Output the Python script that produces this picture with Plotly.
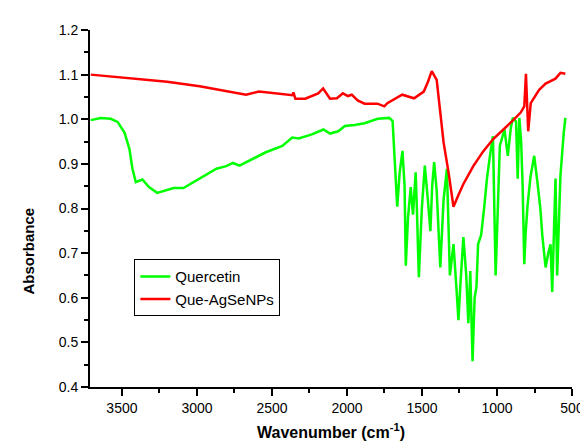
import plotly.graph_objects as go

# FTIR spectra (wavenumber in cm-1, absorbance)
quercetin_wn = [3708, 3641, 3575, 3529, 3483, 3450, 3430, 3408, 3364, 3320,
                3265, 3199, 3155, 3090, 2980, 2870, 2805, 2760, 2717, 2651,
                2541, 2431, 2365, 2322, 2234, 2157, 2113, 2058, 2014, 1949,
                1883, 1795, 1718, 1696, 1682, 1665, 1649, 1630, 1616, 1608,
                1593, 1575, 1560, 1542, 1534, 1521, 1501, 1481, 1461, 1444,
                1432, 1419, 1402, 1378, 1356, 1334, 1314, 1290, 1270, 1257,
                1244, 1224, 1205, 1191, 1178, 1163, 1149, 1137, 1126, 1106,
                1086, 1066, 1046, 1027, 1009, 994, 981, 950, 928, 908,
                895, 873, 862, 851, 839, 829, 818, 810, 796, 777,
                752, 731, 711, 698, 676, 658, 643, 632, 619, 610,
                599, 586, 577, 555, 544]
quercetin_abs = [0.998, 1.003, 1.001, 0.994, 0.970, 0.933, 0.889, 0.859, 0.865, 0.848,
                 0.835, 0.841, 0.846, 0.846, 0.867, 0.889, 0.895, 0.902, 0.896, 0.907,
                 0.926, 0.940, 0.959, 0.957, 0.966, 0.977, 0.968, 0.973, 0.985, 0.987,
                 0.991, 1.001, 1.003, 0.996, 0.920, 0.804, 0.880, 0.929, 0.850, 0.672,
                 0.780, 0.848, 0.786, 0.881, 0.800, 0.646, 0.800, 0.896, 0.820, 0.749,
                 0.850, 0.904, 0.840, 0.668, 0.820, 0.889, 0.650, 0.720, 0.620, 0.550,
                 0.630, 0.736, 0.650, 0.543, 0.660, 0.458, 0.600, 0.624, 0.720, 0.740,
                 0.800, 0.870, 0.920, 0.962, 0.650, 0.800, 0.940, 0.977, 0.918, 0.980,
                 1.003, 0.995, 0.867, 1.003, 0.950, 0.850, 0.675, 0.740, 0.808, 0.870,
                 0.918, 0.860, 0.800, 0.740, 0.668, 0.700, 0.720, 0.613, 0.750, 0.867,
                 0.650, 0.780, 0.874, 0.970, 1.003]

que_agse_wn = [3708, 3616, 3419, 3199, 2982, 2673, 2587, 2409, 2363, 2357,
               2344, 2278, 2192, 2159, 2113, 2067, 2027, 1994, 1968, 1929,
               1883, 1797, 1751, 1731, 1632, 1553, 1488, 1460, 1435, 1402,
               1378, 1356, 1323, 1290, 1257, 1224, 1158, 1092, 1027, 961,
               895, 842, 818, 807, 801, 792, 775, 719, 676, 610,
               577, 544]
que_agse_abs = [1.100, 1.097, 1.090, 1.084, 1.074, 1.055, 1.062, 1.056, 1.054, 1.060,
                1.046, 1.046, 1.058, 1.069, 1.046, 1.047, 1.058, 1.052, 1.055, 1.042,
                1.035, 1.035, 1.029, 1.036, 1.055, 1.047, 1.062, 1.084, 1.108, 1.088,
                1.014, 0.948, 0.881, 0.804, 0.830, 0.855, 0.895, 0.928, 0.955, 0.975,
                0.997, 1.015, 1.029, 1.102, 1.036, 0.973, 1.036, 1.066, 1.080, 1.091,
                1.104, 1.102]

fig = go.Figure()

fig.add_trace(go.Scatter(x=quercetin_wn, y=quercetin_abs, mode='lines',
                         name='Quercetin', line=dict(color='#00ff00', width=2.5)))
fig.add_trace(go.Scatter(x=que_agse_wn, y=que_agse_abs, mode='lines',
                         name='Que-AgSeNPs', line=dict(color='#ff0000', width=2.5)))

axis_font = dict(family='Liberation Sans, Arial, sans-serif', size=14, color='black')

fig.update_layout(
    width=588, height=443,
    margin=dict(l=82, r=18, t=22, b=58),
    plot_bgcolor='white', paper_bgcolor='white',
    font=axis_font,
    showlegend=True,
    legend=dict(x=0.092, y=0.358, xanchor='left', yanchor='top',
                bordercolor='black', borderwidth=1, bgcolor='white',
                font=dict(family='Liberation Sans, Arial, sans-serif', size=15, color='black'),
                tracegroupgap=0),
    xaxis=dict(range=[3713, 500], tickvals=[3500, 3000, 2500, 2000, 1500, 1000, 500],
               showgrid=False, zeroline=False, showline=True, linecolor='black',
               linewidth=2, ticks='outside', ticklen=7, tickwidth=1.5,
               tickcolor='black', tickfont=axis_font,
               minor=dict(tickvals=[3250, 2750, 2250, 1750, 1250, 750],
                          ticks='outside', ticklen=4, tickcolor='black', tickwidth=1.5),
               title=dict(text='<b>Wavenumber (cm<sup>-1</sup>)</b>', standoff=12,
                          font=dict(family='Liberation Sans, Arial, sans-serif', size=16))),
    yaxis=dict(range=[0.4, 1.2], tickvals=[0.4, 0.5, 0.6, 0.7, 0.8, 0.9, 1.0, 1.1, 1.2],
               ticktext=['0.4', '0.5', '0.6', '0.7', '0.8', '0.9', '1.0', '1.1', '1.2'],
               showgrid=False, zeroline=False, showline=True, linecolor='black',
               linewidth=2, ticks='outside', ticklen=7, tickwidth=1.5,
               tickcolor='black', tickfont=axis_font,
               minor=dict(tickvals=[0.45, 0.55, 0.65, 0.75, 0.85, 0.95, 1.05, 1.15],
                          ticks='outside', ticklen=4, tickcolor='black', tickwidth=1.5)),
)

# y title placed by hand, it sits a bit below the middle in the reference
fig.add_annotation(text='<b>Absorbance</b>', textangle=-90, xref='paper', yref='paper',
                   x=-0.15, y=0.38, showarrow=False,
                   font=dict(family='Liberation Sans, Arial, sans-serif', size=15, color='black'))

fig.write_html("out.html")
